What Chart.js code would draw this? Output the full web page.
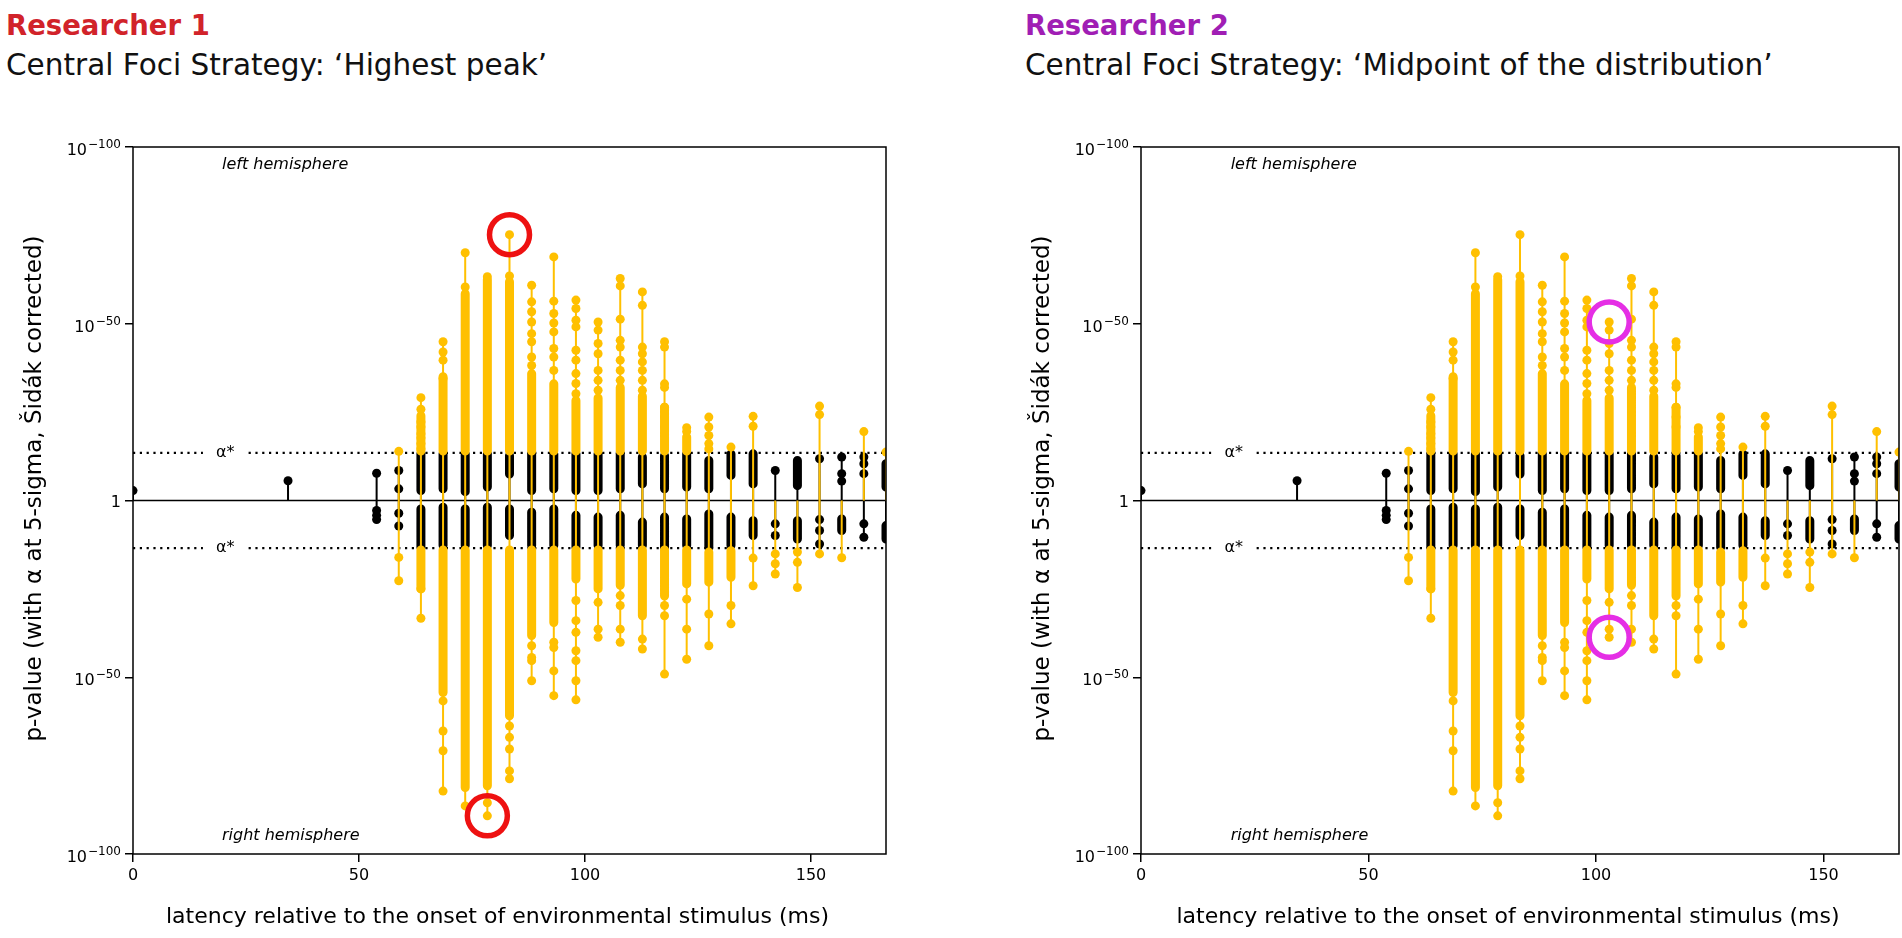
<!DOCTYPE html>
<html>
<head>
<meta charset="utf-8">
<script src="https://cdn.jsdelivr.net/npm/chart.js@4.4.0/dist/chart.umd.min.js"></script>
<style>
  body { margin: 0; background: #fff; width: 1902px; height: 938px; position: relative; overflow: hidden; font-family: 'DejaVu Sans', sans-serif; }
  .who { position: absolute; top: 12px; font-weight: bold; font-size: 27.5px; line-height: 27.5px; white-space: nowrap; }
  .strat { position: absolute; top: 51px; font-size: 29.5px; line-height: 29.5px; color: #111; white-space: nowrap; }
  canvas { position: absolute; top: 100px; }
</style>
</head>
<body>
<div class="who" style="left:6px;color:#d1232a">Researcher 1</div>
<div class="strat" style="left:6px">Central Foci Strategy: ‘Highest peak’</div>
<div class="who" style="left:1025px;color:#a01eb4">Researcher 2</div>
<div class="strat" style="left:1025px">Central Foci Strategy: ‘Midpoint of the distribution’</div>
<canvas id="left" width="900" height="838" style="left:0"></canvas>
<canvas id="right" width="902" height="838" style="left:1000px"></canvas>
<script>
// latency of each stem column (ms)
var latency = [0, 34.3, 53.9, 58.8, 63.7, 68.6, 73.5, 78.4, 83.3, 88.2, 93.1, 98.0, 102.9,
               107.8, 112.7, 117.6, 122.5, 127.4, 132.3, 137.2, 142.1, 147.0, 151.9, 156.8, 161.7, 166.6];

// -log10(p), positive = left hemisphere, negative = right hemisphere
// significant points (beyond alpha*), single dots
var sigDots = [
  [], [], [],
  [13.9, -16.1, -22.7],
  [29.1, 25.8, 22.2, 20.8, 18.9, 17.7, 16.1, 14.6, -25.0, -33.3],
  [44.9, 42.0, 39.7, 34.5, -56.7, -65.2, -70.8, -82.2],
  [70.1, 60.4, -86.4],
  [63.3, -85.5, -89.2],
  [75.2, 63.5, -63.8, -67.0, -70.3, -76.5, -78.7],
  [60.9, 56.2, 53.4, 50.5, 47.2, 44.9, 40.6, 38.2, -41.1, -44.4, -45.3, -51.0],
  [68.9, 56.4, 52.9, 50.2, 47.7, 43.0, 40.6, 36.8, -40.1, -41.6, -48.2, -55.2],
  [56.7, 54.3, 51.0, 49.1, 42.5, 39.7, 35.9, 33.1, 30.2, -28.3, -34.0, -37.3, -42.5, -45.3, -51.0, -56.4],
  [50.5, 48.2, 44.4, 41.5, 36.8, 34.0, 31.2, -28.8, -36.4, -38.7],
  [62.8, 60.7, 51.3, 45.3, 43.4, 39.7, 36.8, 34.0, -26.9, -29.7, -36.4, -40.1],
  [59.0, 55.2, 43.4, 41.5, 39.2, 36.8, 34.0, 31.2, -39.2, -42.0],
  [44.9, 43.4, 33.0, 32.0, 26.4, 23.6, 20.8, -29.7, -32.6, -49.1],
  [20.6, 19.5, -27.9, -36.4, -44.9],
  [23.6, 20.8, 18.4, 16.1, 14.6, -32.1, -41.1],
  [15.1, -29.7, -34.9],
  [23.8, 21.0, -16.3, -24.1],
  [-15.1, -17.9, -20.8],
  [-14.6, -17.5, -24.6],
  [26.7, 24.3, -15.1],
  [-16.2],
  [19.5],
  [13.7]
];
// significant points packed so tight they form a solid run [from, to]
var sigRuns = [
  [], [], [], [],
  [[14.0, 24.0], [-14.0, -25.0]],
  [[14.0, 35.0], [-14.0, -54.3]],
  [[14.0, 58.5], [-14.0, -81.2]],
  [[14.0, 62.5], [-14.0, -80.7]],
  [[14.0, 61.9], [-14.0, -60.9]],
  [[14.0, 35.9], [-14.0, -38.2]],
  [[14.0, 33.0], [-14.0, -34.5]],
  [[14.0, 28.3], [-14.0, -22.2]],
  [[14.0, 29.0], [-14.0, -25.0]],
  [[14.0, 32.0], [-14.0, -24.0]],
  [[14.0, 29.5], [-14.0, -32.6]],
  [[14.0, 26.4], [-14.0, -27.0]],
  [[14.0, 18.0], [-14.0, -23.6]],
  [[-14.6, -23.1]],
  [[-14.2, -21.7]],
  [], [], [], [], [], [], []
];
// non-significant points
var nsDots = [
  [2.8], [5.6], [7.7, -2.8, -4.2, -5.4], [8.5, 3.3, -3.6, -7.2],
  [], [], [], [], [], [], [], [], [], [], [], [], [], [], [], [],
  [8.5, -6.6, -9.9],
  [],
  [11.8, -5.4, -8.5, -12.3],
  [12.3, 7.6, 5.5],
  [12.3, 10.4, 7.6, -6.6, -10.4],
  []
];
var nsRuns = [
  [], [], [], [],
  [[2.8, 13.2], [-2.4, -13.2]],
  [[3.3, 13.2], [-1.9, -12.7]],
  [[2.5, 13.2], [-2.4, -12.7]],
  [[3.8, 13.2], [-1.9, -12.7]],
  [[7.5, 12.7], [-2.4, -9.9]],
  [[2.8, 13.2], [-3.3, -12.7]],
  [[3.3, 13.2], [-2.4, -12.7]],
  [[2.8, 13.2], [-4.2, -13.2]],
  [[2.8, 13.2], [-4.7, -12.7]],
  [[3.3, 13.2], [-4.2, -12.7]],
  [[4.7, 12.3], [-6.1, -12.7]],
  [[3.3, 12.7], [-4.7, -13.2]],
  [[3.8, 13.2], [-5.2, -12.7]],
  [[3.3, 11.3], [-3.8, -13.2]],
  [[7.1, 13.2], [-4.7, -12.7]],
  [[4.7, 13.2], [-5.7, -9.9]],
  [],
  [[4.2, 11.3], [-5.7, -10.9]],
  [],
  [[-5.2, -8.5]],
  [],
  [[3.8, 10.4], [-7.1, -10.9]]
];

var alphaStar = 13.5;
var yTickValues = [100, 50, 0, -50, -100];
var yTickBase = ['10', '10', '1', '10', '10'];
var yTickPower = ['−100', '−50', '', '−50', '−100'];
var midpointLatency = 102.9;   // column chosen by researcher 2

var yellow = '#FFC000';
var black = '#000000';

function colValues(dots, runs, i) {
  return dots[i].concat.apply(dots[i], runs[i]);
}

function stemData(dots, runs) {
  var out = [];
  latency.forEach(function (x, i) {
    var v = colValues(dots, runs, i);
    if (!v.length) return;
    out.push({x: x, y: Math.min.apply(null, [0].concat(v))},
             {x: x, y: Math.max.apply(null, [0].concat(v))},
             {x: x, y: null});
  });
  return out;
}

function runData(runs) {
  var out = [];
  latency.forEach(function (x, i) {
    runs[i].forEach(function (r) {
      out.push({x: x, y: r[0]}, {x: x, y: r[1]}, {x: x, y: null});
    });
  });
  return out;
}

function dotData(dots) {
  var out = [];
  latency.forEach(function (x, i) {
    dots[i].forEach(function (v) { out.push({x: x, y: v}); });
  });
  return out;
}

// researcher 1: overall highest peak on each side
function highestPeaks() {
  var hi = null, lo = null;
  latency.forEach(function (x, i) {
    colValues(sigDots, sigRuns, i).forEach(function (v) {
      if (!hi || v > hi.y) hi = {x: x, y: v};
      if (!lo || v < lo.y) lo = {x: x, y: v};
    });
  });
  return [hi, lo];
}

// researcher 2: extremes of the midpoint column
function midpointPeaks() {
  var i = latency.indexOf(midpointLatency);
  var v = colValues(sigDots, sigRuns, i);
  return [{x: latency[i], y: Math.max.apply(null, v)}, {x: latency[i], y: Math.min.apply(null, v)}];
}

var decor = {
  id: 'decor',
  afterDatasetsDraw: function (chart) {
    var ctx = chart.ctx, a = chart.chartArea, x = chart.scales.x, y = chart.scales.y;
    ctx.save();
    ctx.font = '16px "DejaVu Sans"';
    ctx.textAlign = 'center';
    ctx.textBaseline = 'middle';
    [alphaStar, -alphaStar].forEach(function (v) {
      var px = x.getPixelForValue(20.4), py = y.getPixelForValue(v);
      var w = ctx.measureText('α*').width + 26;
      ctx.fillStyle = '#fff';
      ctx.fillRect(px - w / 2, py - 4, w, 8);
      ctx.fillStyle = '#000';
      ctx.fillText('α*', px, py);
    });
    ctx.font = 'italic 16px "DejaVu Sans"';
    ctx.textAlign = 'left';
    ctx.fillText('left hemisphere', x.getPixelForValue(19.7), y.getPixelForValue(95));
    ctx.fillText('right hemisphere', x.getPixelForValue(19.7), y.getPixelForValue(-95));
    ctx.strokeStyle = '#000';
    ctx.lineWidth = 1.5;
    ctx.strokeRect(a.left, a.top, a.right - a.left, a.bottom - a.top);
    ctx.restore();
  },
  afterDraw: function (chart) {
    var ctx = chart.ctx, a = chart.chartArea, y = chart.scales.y;
    ctx.save();
    ctx.fillStyle = '#000';
    // y tick labels with real superscripts
    ctx.textAlign = 'right';
    ctx.textBaseline = 'alphabetic';
    yTickValues.forEach(function (v, i) {
      var py = y.getPixelForValue(v), px = a.left - 12;
      if (yTickPower[i]) {
        ctx.font = '12px "DejaVu Sans"';
        ctx.fillText(yTickPower[i], px, py + 1);
        px -= ctx.measureText(yTickPower[i]).width + 1;
        ctx.font = '16px "DejaVu Sans"';
        ctx.fillText(yTickBase[i], px, py + 8);
      } else {
        ctx.font = '16px "DejaVu Sans"';
        ctx.fillText(yTickBase[i], px, py + 6);
      }
    });
    ctx.textAlign = 'center';
    ctx.font = '22px "DejaVu Sans"';
    ctx.fillText('latency relative to the onset of environmental stimulus (ms)', (a.left + a.right) / 2 - 12, a.bottom + 69);
    ctx.font = '23px "DejaVu Sans"';
    ctx.translate(a.left - 98, (a.top + a.bottom) / 2 - 12);
    ctx.rotate(-Math.PI / 2);
    ctx.textBaseline = 'middle';
    ctx.fillText('p-value (with α at 5-sigma, Šidák corrected)', 0, 0);
    ctx.restore();
  }
};

function lineSet(label, data, color, width, order, extra) {
  var ds = {label: label, data: data, showLine: true, spanGaps: false, borderColor: color,
            borderWidth: width, pointRadius: 0, pointHoverRadius: 0, order: order, clip: 0};
  for (var k in extra) ds[k] = extra[k];
  return ds;
}

function dotSet(label, data, color, order) {
  return {label: label, data: data, pointRadius: 4.5, pointHoverRadius: 4.5, pointBorderWidth: 0,
          pointBackgroundColor: color, backgroundColor: color, borderColor: color, order: order, clip: 0};
}

function drawPanel(id, yWidth, padRight, ringColor, rings) {
  var x0 = latency[0], x1 = latency[latency.length - 1];
  new Chart(document.getElementById(id), {
    type: 'scatter',
    data: {
      datasets: [
        {label: 'picked', data: rings, pointRadius: 20, pointHoverRadius: 20, pointBorderWidth: 5.5,
         pointBorderColor: ringColor, pointBackgroundColor: 'rgba(0,0,0,0)', order: 0, clip: false},
        dotSet('significant', dotData(sigDots), yellow, 1),
        lineSet('significant runs', runData(sigRuns), yellow, 9, 2, {borderCapStyle: 'round'}),
        lineSet('significant stems', stemData(sigDots, sigRuns), yellow, 2, 3),
        dotSet('not significant', dotData(nsDots), black, 4),
        lineSet('not significant runs', runData(nsRuns), black, 9, 5, {borderCapStyle: 'round'}),
        lineSet('not significant stems', stemData(nsDots, nsRuns), black, 2, 6),
        lineSet('baseline', [{x: x0, y: 0}, {x: x1, y: 0}], black, 1.5, 7),
        lineSet('alpha+', [{x: x0, y: alphaStar}, {x: x1, y: alphaStar}], black, 2.2, 8, {borderDash: [2.2, 4.6]}),
        lineSet('alpha-', [{x: x0, y: -alphaStar}, {x: x1, y: -alphaStar}], black, 2.2, 9, {borderDash: [2.2, 4.6]})
      ]
    },
    options: {
      responsive: false,
      animation: false,
      events: [],
      layout: {autoPadding: false, padding: {left: 0, top: 47, right: padRight, bottom: 0}},
      plugins: {legend: {display: false}, tooltip: {enabled: false}},
      scales: {
        x: {
          type: 'linear', min: x0, max: x1,
          border: {display: false},
          grid: {display: true, drawOnChartArea: false, drawTicks: true, tickLength: 8, color: '#000', lineWidth: 1.5},
          ticks: {stepSize: 50, includeBounds: false, maxRotation: 0, padding: 4, color: '#000',
                  font: {family: 'DejaVu Sans', size: 16}},
          afterFit: function (s) { s.height = 84; }
        },
        y: {
          type: 'linear', min: -100, max: 100,
          border: {display: false},
          grid: {display: true, drawOnChartArea: false, drawTicks: true, tickLength: 8, color: '#000', lineWidth: 1.5},
          ticks: {stepSize: 50, callback: function () { return ''; }},
          afterFit: function (s) { s.width = yWidth; }
        }
      }
    },
    plugins: [decor]
  });
}

drawPanel('left', 133, 14, '#ee1111', highestPeaks());
drawPanel('right', 141, 3, '#e52ee5', midpointPeaks());
</script>
</body>
</html>
